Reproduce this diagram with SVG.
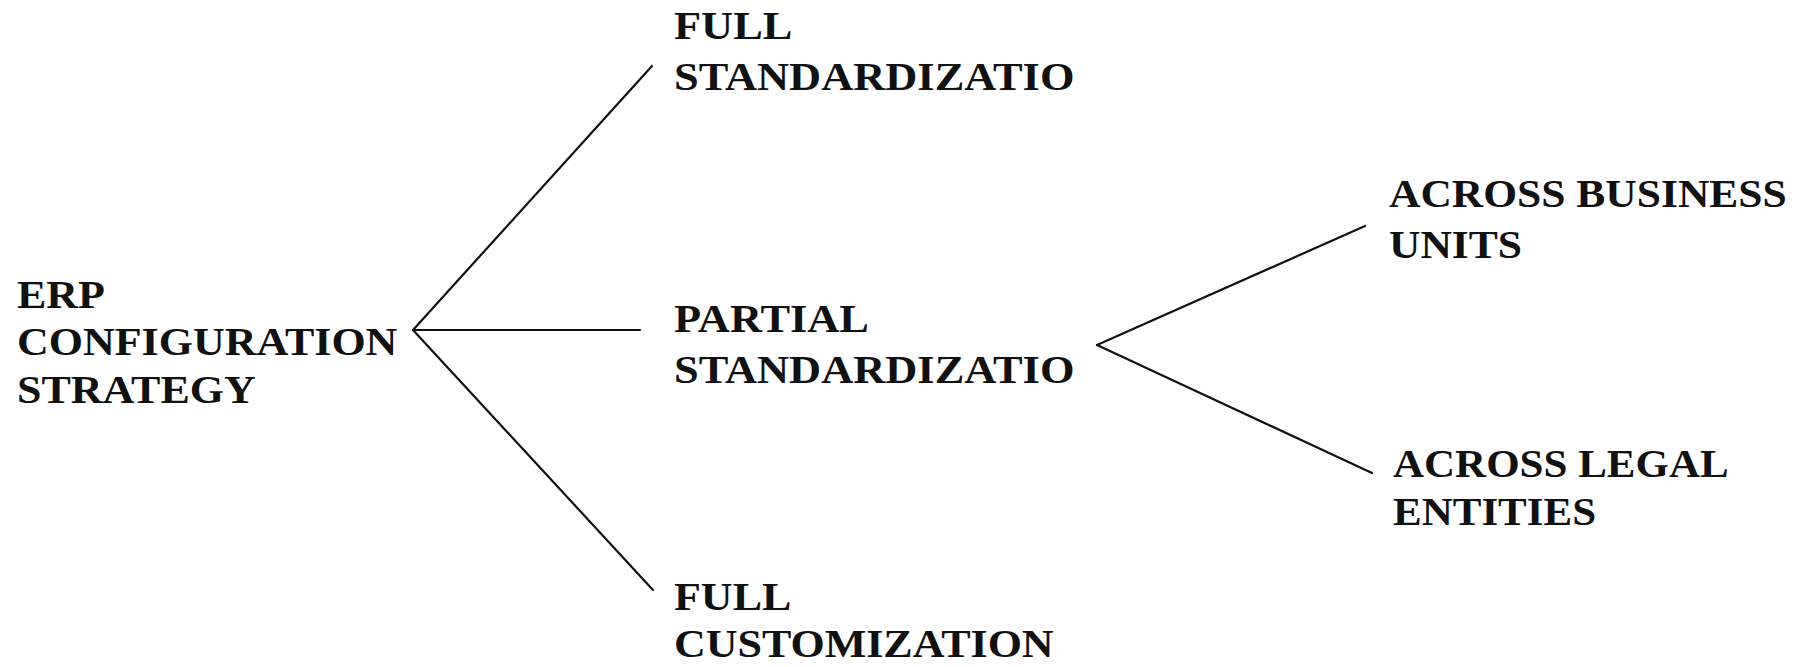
<svg xmlns="http://www.w3.org/2000/svg" width="1808" height="667" viewBox="0 0 1808 667">
  <style>
    .lbl { font-family: "Liberation Serif", "Times New Roman", serif; font-weight: bold; font-size: 40px; fill: #111; }
    .edge { stroke: #111; stroke-width: 2.2; fill: none; stroke-linecap: round; }
  </style>
  <rect width="1808" height="667" fill="#fff"/>

  <!-- connectors -->
  <g id="connectors">
    <line class="edge" x1="413" y1="330" x2="652" y2="66"/>
    <line class="edge" x1="413" y1="330" x2="640" y2="330"/>
    <line class="edge" x1="413" y1="330" x2="653" y2="590"/>
    <line class="edge" x1="1097" y1="345" x2="1365" y2="226"/>
    <line class="edge" x1="1097" y1="345" x2="1372" y2="473"/>
  </g>

  <!-- nodes: wide bold serif labels, stretched horizontally -->
  <g id="node-root">
    <text class="lbl" transform="translate(17,0) scale(1.10,1)">
      <tspan x="0" y="308">ERP</tspan>
      <tspan x="0" y="355">CONFIGURATION</tspan>
      <tspan x="0" y="403">STRATEGY</tspan>
    </text>
  </g>
  <g id="node-full-standardization">
    <text class="lbl" transform="translate(674,0) scale(1.11,1)">
      <tspan x="0" y="39">FULL</tspan>
      <tspan x="0" y="90">STANDARDIZATIO</tspan>
    </text>
  </g>
  <g id="node-partial-standardization">
    <text class="lbl" transform="translate(674,0) scale(1.11,1)">
      <tspan x="0" y="332">PARTIAL</tspan>
      <tspan x="0" y="383">STANDARDIZATIO</tspan>
    </text>
  </g>
  <g id="node-full-customization">
    <text class="lbl" transform="translate(674,0) scale(1.10,1)">
      <tspan x="0" y="610">FULL</tspan>
      <tspan x="0" y="657">CUSTOMIZATION</tspan>
    </text>
  </g>
  <g id="node-business-units">
    <text class="lbl" transform="translate(1389,0) scale(1.088,1)">
      <tspan x="0" y="207">ACROSS BUSINESS</tspan>
      <tspan x="0" y="258">UNITS</tspan>
    </text>
  </g>
  <g id="node-legal-entities">
    <text class="lbl" transform="translate(1393,0) scale(1.075,1)">
      <tspan x="0" y="477">ACROSS LEGAL</tspan>
      <tspan x="0" y="525">ENTITIES</tspan>
    </text>
  </g>
</svg>
